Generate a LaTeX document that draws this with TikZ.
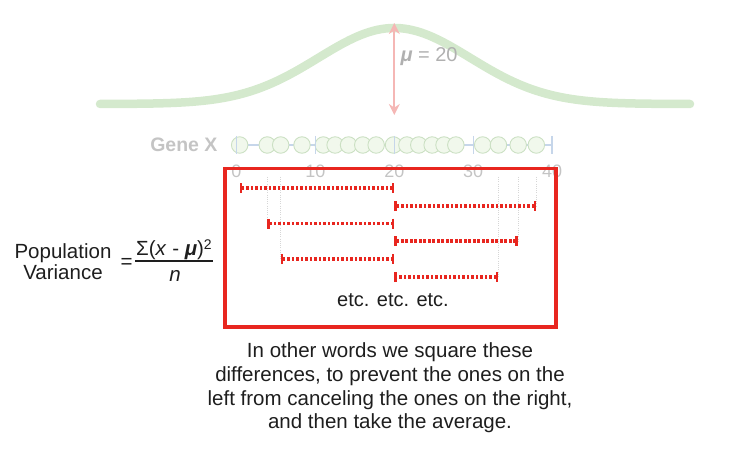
\documentclass[tikz,border=0pt]{standalone}
\usepackage{fontspec}
\setmainfont{Liberation Sans}
\usetikzlibrary{arrows.meta}

\definecolor{curvegreen}{HTML}{D4E9CD}
\definecolor{dotfill}{HTML}{F1F8EC}
\definecolor{dotdraw}{HTML}{CBE0C3}
\definecolor{axisblue}{HTML}{C6D6EA}
\definecolor{mupink}{HTML}{F5B7B5}
\definecolor{fadegray}{HTML}{C4C4C4}
\definecolor{boxred}{HTML}{E8261F}
\definecolor{textdark}{HTML}{1E1E1E}

\begin{document}
\begin{tikzpicture}[x=1pt, y=-1pt, >=Stealth,
  curve/.style={curvegreen, line width=8.5pt, line cap=round},
  gene dot/.style={circle, draw=dotdraw, fill=dotfill, line width=0.9pt,
    minimum size=16.5pt, inner sep=0pt},
  axis line/.style={axisblue, line width=1.3pt},
  faded/.style={fadegray, font=\fontsize{18}{18}\selectfont},
  diff line/.style={boxred, line width=3.2pt, dash pattern=on 2.6pt off 1.9pt,
    {Bar[width=10pt, line width=2.8pt]}-{Bar[width=10pt, line width=2.8pt]}},
  guide line/.style={fadegray!70, line width=0.8pt, dash pattern=on 1pt off 1.2pt},
  red box/.style={boxred, line width=3.4pt},
  body/.style={textdark, font=\fontsize{20.5}{21}\selectfont}]

\useasboundingbox (0,0) rectangle (730,449);

\draw [curve] plot [domain=100:690, samples=150]
  (\x, {104-76*exp(-0.5*((\x-394.3)/76)^2)});

\coordinate (peak) at (394.3,23);
\coordinate (base) at (394.3,115);
\draw [mupink, line width=2pt, {Stealth[length=11pt, width=11pt]}-{Stealth[length=11pt, width=11pt]}]
  (peak) -- (base);
\node [fadegray!90!black, anchor=west, font=\fontsize{20}{20}\selectfont] (mu) at (397,57)
  {\textbf{\textit{μ}} = 20};

\node [fadegray, anchor=east, font=\bfseries\fontsize{19.5}{19.5}\selectfont] (gene) at (221,145) {Gene X};

\foreach \t in {0,10,20,30,40}
  \coordinate (tick-\t) at ({236.5+7.89*\t},145);

\draw [axis line] (tick-0) -- (tick-40);

\foreach \v [count=\i] in {0.4,3.9,5.6,8.3,11.0,12.5,14.2,16.0,17.7,19.9,
                           21.6,23.1,24.8,26.3,27.8,31.2,33.2,35.7,38.0}
  \node [gene dot] (dot-\i) at ({236.5+7.89*\v},145) {};

\foreach \t in {0,10,20,30,40} {
  \draw [axis line] (tick-\t) ++(0,-9) -- ++(0,18);
  \node [faded] (label-\t) at ({236.5+7.89*\t},171) {\t};
}

\coordinate (guide-top) at (0,177);

\foreach \v/\y [count=\i] in {0.4/188, 38.0/206, 3.9/223.5, 35.7/241, 5.6/259, 33.2/277}
  \coordinate (val-\i) at ({236.5+7.89*\v},\y);

\foreach \y [count=\i] in {188, 206, 223.5, 241, 259, 277}
  \coordinate (mean-\i) at (394.3,\y);

\foreach \i in {2,...,6}
  \draw [guide line] (val-\i |- guide-top) -- (val-\i);

\foreach \i in {1,...,6}
  \draw [diff line] (val-\i) -- (mean-\i);

\coordinate (box-nw) at (225,168.5);
\coordinate (box-se) at (556,327);
\draw [red box] (box-nw) rectangle (box-se);

\node [body, font=\fontsize{20}{20}\selectfont] (etc) at (393,300) {etc. etc. etc.};

\node [body, align=center] (pop) at (63,262) {Population\\Variance};
\node [body] (eq) at (126.7,263) {=};
\node [body, inner sep=1pt] (num) at (174,250)
  {Σ(\textit{x} - \textbf{\textit{μ}})\raisebox{6pt}{\fontsize{14}{14}\selectfont 2}};
\node [body] (den) at (175,276) {\textit{n}};
\draw [textdark, line width=1.5pt] (num.south west) -- (num.south east);

\node [body, align=center, font=\fontsize{20.5}{23.7}\selectfont] (words) at (390,388)
  {In other words we square these\\
   differences, to prevent the ones on the\\
   left from canceling the ones on the right,\\
   and then take the average.};

\end{tikzpicture}
\end{document}
